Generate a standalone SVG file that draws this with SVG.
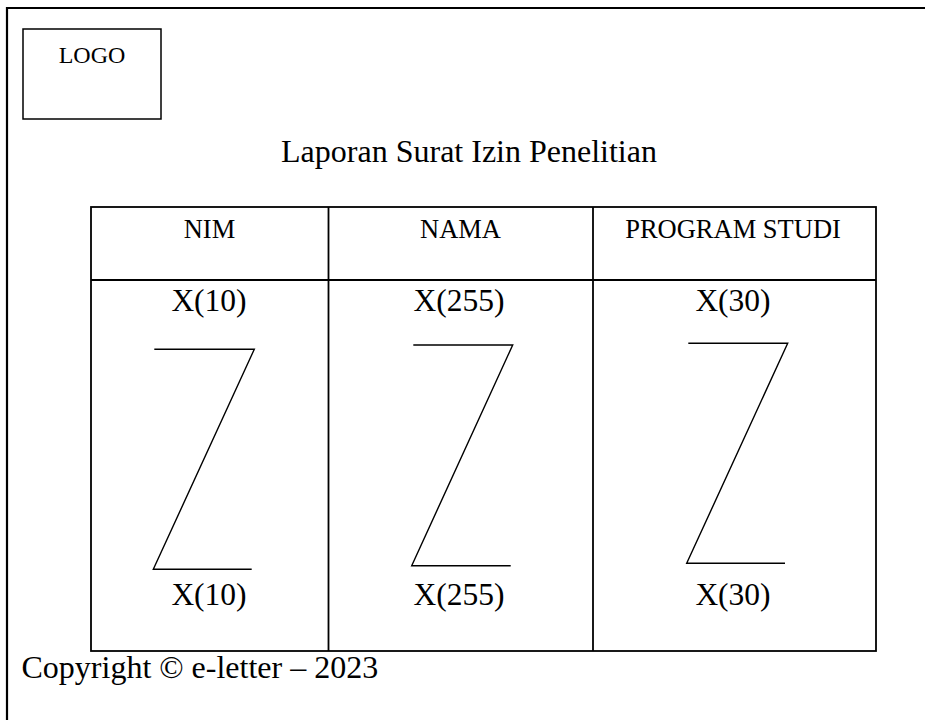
<svg xmlns="http://www.w3.org/2000/svg" width="925" height="720" viewBox="0 0 925 720">
  <style>
    text { font-family: "Liberation Serif", "Times New Roman", serif; fill: #000; }
    .title { font-size: 32px; }
    .head { font-size: 26.5px; text-anchor: middle; }
    .val { font-size: 31.5px; text-anchor: middle; }
    .logo { font-size: 24px; text-anchor: middle; }
    .frame { fill: none; stroke: #000; stroke-width: 2.2; }
    .grid { fill: none; stroke: #000; stroke-width: 1.8; }
    .zig { fill: none; stroke: #000; stroke-width: 1.4; stroke-linejoin: miter; }
  </style>

  <rect width="925" height="720" fill="#fff"/>

  <!-- page frame, open to the right and bottom -->
  <path class="frame" d="M7,720 V8 H925"/>

  <!-- logo placeholder -->
  <g id="logo">
    <rect class="grid" x="23" y="29" width="138" height="90" style="stroke-width:1.5"/>
    <text class="logo" x="92" y="63">LOGO</text>
  </g>

  <!-- report heading -->
  <g id="title">
    <text class="title" x="469" y="162" text-anchor="middle">Laporan Surat Izin Penelitian</text>
  </g>

  <!-- data table -->
  <g id="table">
    <rect class="grid" x="91" y="207" width="785" height="444"/>
    <line class="grid" x1="91" y1="280" x2="876" y2="280"/>
    <line class="grid" x1="328.5" y1="207" x2="328.5" y2="651"/>
    <line class="grid" x1="593" y1="207" x2="593" y2="651"/>
  </g>

  <g id="col-nim">
    <text class="head" x="209.5" y="238">NIM</text>
    <text class="val" x="209" y="311">X(10)</text>
    <text class="val" x="209" y="605">X(10)</text>
  </g>

  <g id="col-nama">
    <text class="head" x="460.5" y="238">NAMA</text>
    <text class="val" x="459" y="311">X(255)</text>
    <text class="val" x="459" y="605">X(255)</text>
  </g>

  <g id="col-prodi">
    <text class="head" x="733" y="238">PROGRAM STUDI</text>
    <text class="val" x="733" y="311">X(30)</text>
    <text class="val" x="733" y="605">X(30)</text>
  </g>

  <!-- repeat markers between first and last row -->
  <g id="connectors">
    <path class="zig" d="M154.3,349.3 H254.3 L153.3,569.3 H251.7"/>
    <path class="zig" d="M413.3,345 H512.7 L411.7,565.7 H510.7"/>
    <path class="zig" d="M688.3,343.3 H787.7 L686.7,563.3 H785"/>
  </g>

  <!-- footer -->
  <g id="footer">
    <text class="title" x="21.5" y="678">Copyright © e-letter – 2023</text>
  </g>
</svg>
